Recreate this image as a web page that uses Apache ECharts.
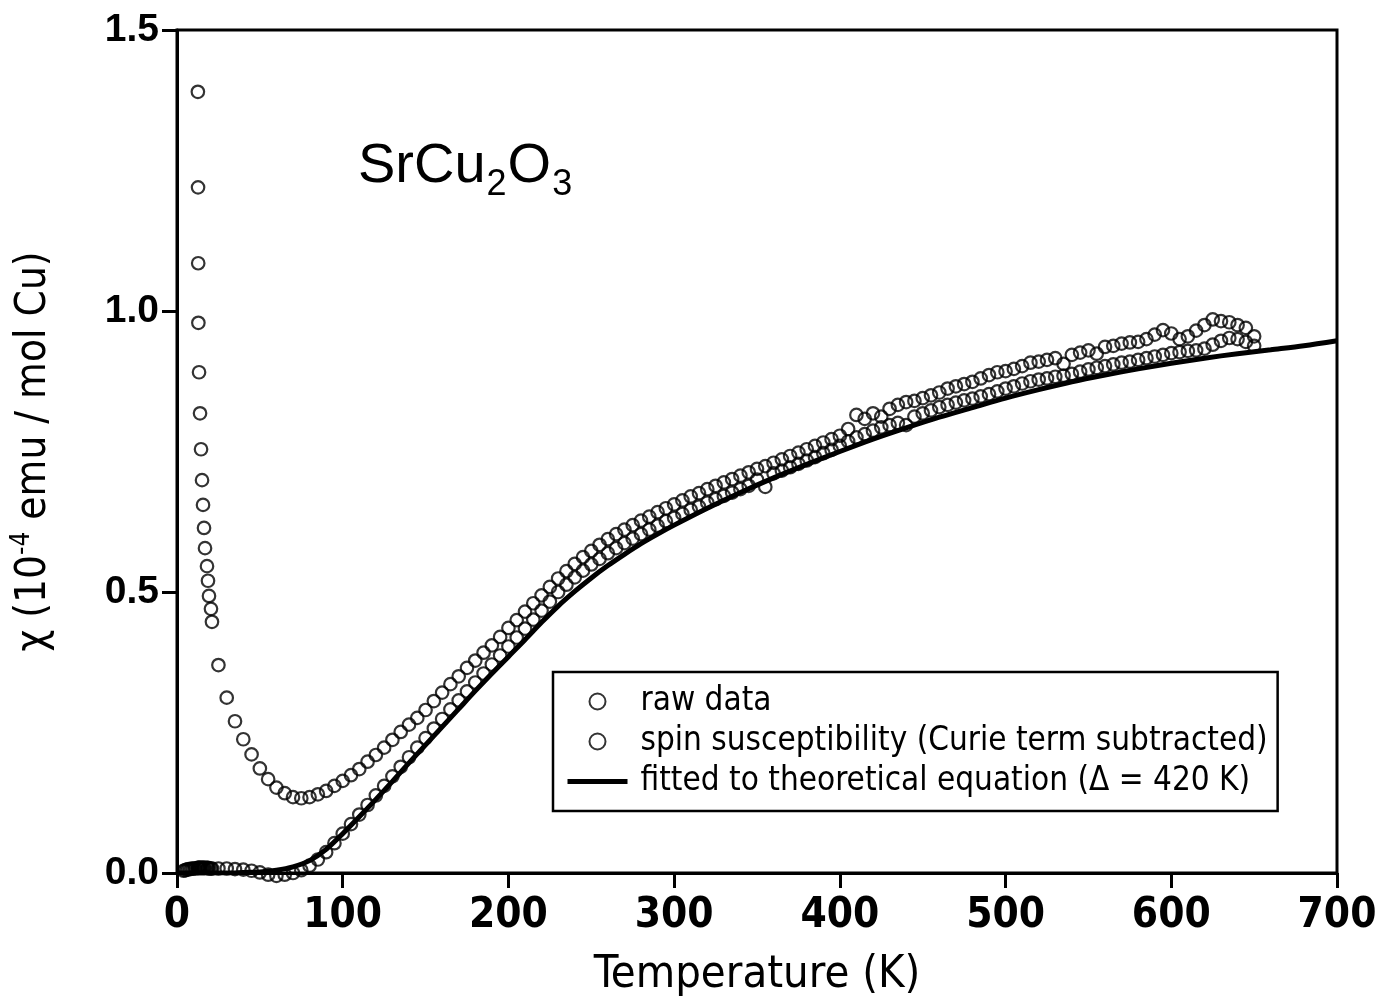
<!DOCTYPE html>
<html>
<head>
<meta charset="utf-8">
<script src="https://cdn.jsdelivr.net/npm/echarts@6/dist/echarts.min.js"></script>
<style>
html,body{margin:0;padding:0;background:#fff;}
#chart{width:1383px;height:1004px;}
</style>
</head>
<body>
<div id="chart"></div>
<script>
// ---- data ----
var xTicks = [0, 100, 200, 300, 400, 500, 600, 700];
var yTicks = [0.0, 0.5, 1.0, 1.5];

// raw data (K, 1e-4 emu/mol Cu)
var rawT = [12.6,12.7,12.8,12.9,13.3,13.9,14.5,15.1,15.7,16.3,16.9,18.1,18.7,19.3,20.5,21.1,
  25,30,35,40,45,50,55,60,65,70,75,80,85,90,95,100,105,110,115,120,125,130,135,140,145,150,
  155,160,165,170,175,180,185,190,195,200,205,210,215,220,225,230,235,240,245,250,255,260,265,270,
  275,280,285,290,295,300,305,310,315,320,325,330,335,340,345,350,355,360,365,370,375,380,385,390,
  395,400,405,410,415,420,425,430,435,440,445,450,455,460,465,470,475,480,485,490,495,500,505,510,
  515,520,525,530,535,540,545,550,555,560,565,570,575,580,585,590,595,600,605,610,615,620,625,630,
  635,640,645,650];
var rawChi = [1.39,1.22,1.085,0.979,0.891,0.818,0.754,0.699,0.655,0.614,0.578,0.546,0.52,0.493,0.47,0.447,
  0.370,0.312,0.270,0.238,0.211,0.186,0.167,0.152,0.142,0.135,0.133,0.135,0.140,0.146,0.155,0.164,0.174,0.185,0.198,0.210,0.223,0.237,0.251,0.264,0.276,0.290,
  0.306,0.321,0.336,0.350,0.365,0.378,0.392,0.405,0.420,0.436,0.450,0.465,0.480,0.494,0.509,0.524,0.537,0.550,0.562,0.573,0.584,0.594,0.603,0.611,
  0.619,0.627,0.634,0.642,0.649,0.656,0.663,0.670,0.676,0.683,0.689,0.695,0.701,0.707,0.713,0.719,0.724,0.730,0.736,0.742,0.748,0.754,0.760,0.766,
  0.772,0.778,0.790,0.815,0.808,0.818,0.812,0.826,0.833,0.838,0.840,0.845,0.850,0.855,0.862,0.866,0.870,0.874,0.880,0.886,0.891,0.893,0.897,0.902,
  0.908,0.910,0.913,0.916,0.906,0.922,0.926,0.930,0.924,0.936,0.938,0.942,0.944,0.945,0.950,0.958,0.966,0.960,0.950,0.955,0.965,0.975,0.985,0.982,
  0.980,0.975,0.970,0.955];

// spin susceptibility (Curie term subtracted)
var spinT = [4,5,6,7,8,9,10,11,12.6,12.8,13.3,13.9,14.5,15.1,15.7,16.3,16.9,18.1,18.7,19.3,20.5,21.1,
  25,30,35,40,45,50,55,60,65,70,75,80,85,90,95,100,105,110,115,120,125,130,135,140,145,150,
  155,160,165,170,175,180,185,190,195,200,205,210,215,220,225,230,235,240,245,250,255,260,265,270,
  275,280,285,290,295,300,305,310,315,320,325,330,335,340,345,350,355,360,365,370,375,380,385,390,
  395,400,405,410,415,420,425,430,435,440,445,450,455,460,465,470,475,480,485,490,495,500,505,510,
  515,520,525,530,535,540,545,550,555,560,565,570,575,580,585,590,595,600,605,610,615,620,625,630,
  635,640,645,650];
var spinChi = [0.004,0.005,0.006,0.007,0.007,0.008,0.008,0.008,0.009,0.009,0.009,0.009,0.009,0.009,0.009,0.009,0.009,0.009,0.009,0.008,0.008,0.008,
  0.008,0.008,0.007,0.006,0.004,0.001,-0.003,-0.005,-0.003,0.000,0.005,0.013,0.024,0.037,0.053,0.070,0.087,0.104,0.121,0.138,0.155,0.172,0.189,0.206,0.223,0.240,
  0.257,0.274,0.291,0.307,0.323,0.339,0.355,0.371,0.387,0.403,0.419,0.435,0.451,0.467,0.483,0.500,0.513,0.526,0.538,0.549,0.559,0.569,0.578,0.587,
  0.595,0.603,0.611,0.618,0.626,0.632,0.639,0.646,0.652,0.659,0.665,0.671,0.677,0.683,0.689,0.700,0.687,0.711,0.716,0.722,0.728,0.734,0.740,0.747,
  0.753,0.760,0.768,0.775,0.781,0.787,0.793,0.797,0.801,0.797,0.812,0.818,0.823,0.829,0.833,0.837,0.841,0.844,0.848,0.852,0.857,0.862,0.866,0.871,
  0.875,0.878,0.880,0.883,0.885,0.888,0.892,0.896,0.899,0.902,0.905,0.908,0.910,0.913,0.916,0.919,0.922,0.925,0.927,0.929,0.930,0.933,0.940,0.947,
  0.952,0.950,0.945,0.938];

// fitted to theoretical equation (Delta = 420 K)
var fitT = [0,10,20,30,40,50,60,70,80,90,100,110,120,130,140,150,160,170,180,190,200,210,220,230,240,250,260,270,280,290,300,
  320,340,360,380,400,420,440,460,480,500,520,540,560,580,600,620,640,660,680,700];
var fitChi = [0,0,0,0,0.001,0.002,0.005,0.011,0.022,0.042,0.070,0.100,0.131,0.163,0.196,0.228,0.260,0.292,0.324,0.355,0.385,0.415,0.446,0.475,0.501,0.525,0.547,0.567,0.586,0.603,0.619,
  0.649,0.677,0.703,0.727,0.750,0.772,0.792,0.811,0.828,0.845,0.860,0.874,0.886,0.897,0.907,0.916,0.924,0.931,0.938,0.947];

var seriesNames = ['raw data', 'spin susceptibility (Curie term subtracted)', 'fitted to theoretical equation (\u0394 = 420 K)'];

function pairs(a, b) { return a.map(function (v, i) { return [v, b[i]]; }); }

var NARROW = '"Liberation Sans Narrow", "DejaVu Sans Condensed", "Liberation Sans", sans-serif';
var SANS = '"Liberation Sans", Arial, sans-serif';

var chart = echarts.init(document.getElementById('chart'), null, {renderer: 'canvas'});
var circleStyle = {color: 'rgba(0,0,0,0)', borderColor: '#000', borderWidth: 2.2};

chart.setOption({
  backgroundColor: '#fff',
  animation: false,
  grid: {left: 177, right: 46, top: 30, bottom: 131, containLabel: false, outerBoundsMode: 'none',
    show: true, borderColor: '#000', borderWidth: 3, backgroundColor: 'transparent'},
  title: {
    text: '{m|SrCu}{s|2}{m|O}{s|3}',
    left: 353, top: 134,
    textStyle: {
      fontWeight: 'normal',
      rich: {
        m: {fontFamily: SANS, fontSize: 56, fontWeight: 'normal', color: '#000', lineHeight: 58, verticalAlign: 'top'},
        s: {fontFamily: SANS, fontSize: 36, fontWeight: 'normal', color: '#000', lineHeight: 58, verticalAlign: 'top', padding: [28, 1, 0, 1]}
      }
    }
  },
  legend: {
    orient: 'vertical',
    left: 553, top: 672,
    padding: [13, 10, 13, 12],
    itemGap: 7,
    itemWidth: 60, itemHeight: 16,
    backgroundColor: '#fff',
    borderColor: '#000', borderWidth: 2.5, borderRadius: 0,
    textStyle: {fontFamily: NARROW, fontSize: 33, color: '#000', padding: [0, 0, 0, 8]},
    data: [
      {name: seriesNames[0], icon: 'circle'},
      {name: seriesNames[1], icon: 'circle'},
      {name: seriesNames[2], itemStyle: {opacity: 0}, lineStyle: {width: 5, color: '#000'}}
    ]
  },
  xAxis: {
    type: 'value', min: 0, max: 700, interval: 100,
    name: 'Temperature (K)', nameLocation: 'middle', nameGap: 80,
    nameTextStyle: {fontFamily: NARROW, fontSize: 45, color: '#000'},
    axisLine: {show: true, lineStyle: {color: '#000', width: 3}},
    axisTick: {show: true, inside: false, length: 15, lineStyle: {color: '#000', width: 3}},
    axisLabel: {fontFamily: NARROW, fontSize: 42, fontWeight: 'bold', color: '#000', margin: 22,
      formatter: function (v) { return xTicks.indexOf(v) >= 0 ? String(v) : ''; }},
    splitLine: {show: false}
  },
  yAxis: {
    type: 'value', min: 0, max: 1.5, interval: 0.5,
    name: '{t|\u03C7 (10}{sup|-4}{t| emu / mol Cu)}', nameLocation: 'middle', nameGap: 122, nameRotate: 90,
    nameTextStyle: {
      rich: {
        t: {fontFamily: NARROW, fontSize: 42, color: '#000', lineHeight: 46, verticalAlign: 'bottom'},
        sup: {fontFamily: NARROW, fontSize: 26, color: '#000', lineHeight: 30, verticalAlign: 'top'}
      }
    },
    axisLine: {show: true, lineStyle: {color: '#000', width: 3}},
    axisTick: {show: true, inside: false, length: 15, lineStyle: {color: '#000', width: 3}},
    axisLabel: {fontFamily: SANS, fontSize: 39, fontWeight: 'bold', color: '#000', margin: 18,
      formatter: function (v) {
        for (var i = 0; i < yTicks.length; i++) { if (Math.abs(yTicks[i] - v) < 1e-9) return yTicks[i].toFixed(1); }
        return '';
      }},
    splitLine: {show: false}
  },
  series: [
    {
      name: seriesNames[0], type: 'scatter', symbol: 'circle', symbolSize: 12.5, clip: false,
      itemStyle: circleStyle, data: pairs(rawT, rawChi), z: 3
    },
    {
      name: seriesNames[1], type: 'scatter', symbol: 'circle', symbolSize: 12.5, clip: false,
      itemStyle: circleStyle, data: pairs(spinT, spinChi), z: 3
    },
    {
      name: seriesNames[2], type: 'line', showSymbol: false, symbol: 'none', smooth: 0.3,
      lineStyle: {color: '#000', width: 5}, itemStyle: {color: '#000'},
      data: pairs(fitT, fitChi), z: 2
    }
  ]
});
</script>
</body>
</html>
